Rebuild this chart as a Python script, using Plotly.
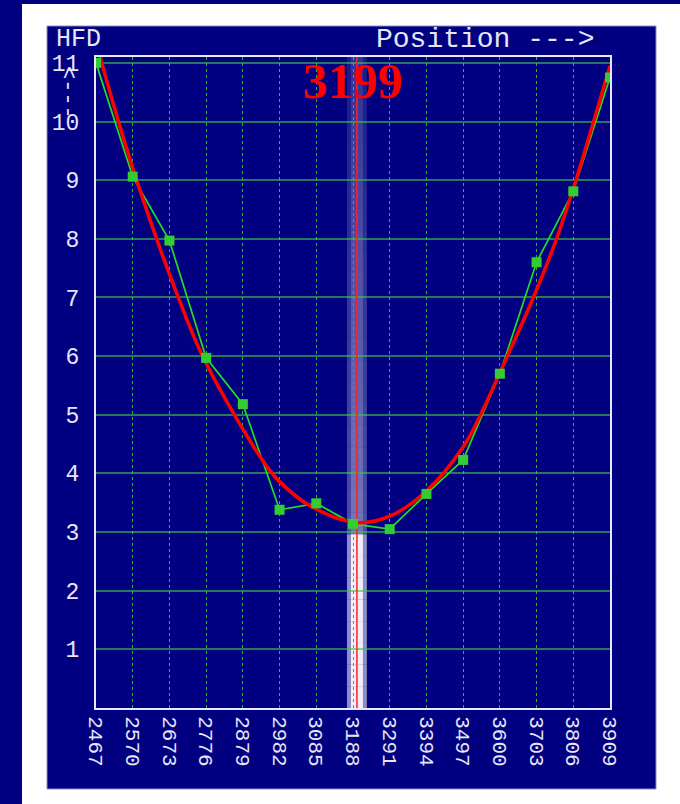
import plotly.graph_objects as go

# ---------------- data ----------------
positions = [2467, 2570, 2673, 2776, 2879, 2982, 3085, 3188, 3291, 3394, 3497, 3600, 3703, 3806, 3909]
hfd = [11.0, 9.06, 7.97, 5.97, 5.18, 3.38, 3.49, 3.14, 3.05, 3.65, 4.23, 5.70, 7.60, 8.81, 10.75]
tick_labels = [str(p) for p in positions]

fit_pos = [2467, 2530, 2581, 2637, 2698, 2763, 2860, 2946, 2982, 3067, 3199,
           3291, 3394, 3497, 3546, 3621, 3694, 3759, 3811, 3858, 3909]
fit_hfd = [11.35, 10.0, 9.0, 8.0, 7.0, 6.04, 4.95, 4.12, 3.86, 3.45, 3.16,
           3.27, 3.70, 4.45, 5.0, 6.0, 7.0, 8.0, 8.95, 9.9, 10.95]

best_focus = 3199
band_half = 28
y_ticks = list(range(1, 12))

# ---------------- geometry (pixels) ----------------
W, H = 680, 804
PL, PR, PT, PB = 96, 610, 57, 708
YMAX = 11.1
NAVY = "#000080"

def px(xp):
    return (xp - PL) / (PR - PL)

def py(yp):
    return (PB - yp) / (PB - PT)

fig = go.Figure()

# green data line (below fit)
fig.add_trace(go.Scatter(x=positions, y=hfd, mode="lines",
                         line=dict(color="#22dd22", width=1.7),
                         hoverinfo="skip", showlegend=False))
# red fit curve
fig.add_trace(go.Scatter(x=fit_pos, y=fit_hfd, mode="lines",
                         line=dict(color="#ff0000", width=3.5, shape="spline", smoothing=1.0),
                         hoverinfo="skip", showlegend=False))
# green markers
fig.add_trace(go.Scatter(x=positions, y=hfd, mode="markers",
                         marker=dict(symbol="square", size=10, color="#33cc33",
                                     line=dict(width=0)),
                         hoverinfo="skip", showlegend=False))

shapes = []
# frame decorations
shapes.append(dict(type="rect", xref="paper", yref="paper", layer="below",
                   x0=px(0), x1=px(22), y0=py(H), y1=py(0),
                   fillcolor=NAVY, line=dict(width=0)))
shapes.append(dict(type="rect", xref="paper", yref="paper", layer="below",
                   x0=px(0), x1=px(W), y0=py(4), y1=py(0),
                   fillcolor=NAVY, line=dict(width=0)))
shapes.append(dict(type="rect", xref="paper", yref="paper", layer="below",
                   x0=px(47), x1=px(656), y0=py(789), y1=py(26),
                   fillcolor=NAVY, line=dict(color="#8c8cc8", width=1)))

# focus band: vertical gradient of white
nseg = 30
for i in range(nseg):
    y0 = YMAX * i / nseg
    y1 = YMAX * (i + 1) / nseg
    ym = (y0 + y1) / 2
    if ym < 3.1:
        a_out, a_in = 0.55, 0.85
    else:
        f = (ym - 3.1) / (YMAX - 3.1)
        a_out = 0.30 - 0.20 * f
        a_in = 0.22 - 0.12 * f
    shapes.append(dict(type="rect", xref="x", yref="y", layer="below",
                       x0=best_focus - band_half, x1=best_focus + band_half,
                       y0=y0, y1=y1, fillcolor="white", opacity=a_out,
                       line=dict(width=0)))
    shapes.append(dict(type="rect", xref="x", yref="y", layer="below",
                       x0=best_focus - band_half * 0.6, x1=best_focus + band_half * 0.6,
                       y0=y0, y1=y1, fillcolor="white", opacity=a_in,
                       line=dict(width=0)))

# red best-focus line
shapes.append(dict(type="line", xref="x", yref="y", layer="between",
                   x0=best_focus, x1=best_focus, y0=0, y1=YMAX,
                   line=dict(color="#ff2020", width=1.5)))

fig.update_layout(shapes=shapes)

mono = "Liberation Mono, Courier New, monospace"
txt_col = "#e6e6f6"

annotations = [
    dict(text="HFD", xref="paper", yref="paper", x=px(54), y=py(40),
         xanchor="left", yanchor="middle", showarrow=False,
         font=dict(family=mono, size=25, color=txt_col)),
    dict(text="Position --->", xref="paper", yref="paper", x=px(374), y=py(40),
         xanchor="left", yanchor="middle", showarrow=False,
         font=dict(family=mono, size=28, color=txt_col)),
    dict(text="&lt;---", xref="paper", yref="paper", x=px(67), y=py(92),
         xanchor="center", yanchor="middle", showarrow=False, textangle=90,
         font=dict(family=mono, size=22, color=txt_col)),
    dict(text=str(best_focus), xref="x", yref="paper", x=best_focus, y=py(81),
         xanchor="center", yanchor="middle", showarrow=False, xshift=-4,
         font=dict(family="Liberation Serif, Times New Roman, serif", size=50,
                   color="#ff0000", weight="bold")),
]
fig.update_layout(annotations=annotations)

fig.update_xaxes(range=[positions[0], positions[-1]],
                 tickvals=positions, ticktext=tick_labels, tickangle=90,
                 tickfont=dict(family=mono, size=21, color=txt_col),
                 showgrid=True, gridcolor="#22c022", griddash="dot", gridwidth=1,
                 showline=True, linecolor="#e8e8f8", linewidth=2, mirror=True,
                 zeroline=False, ticks="", ticklabelstandoff=2, fixedrange=True)
fig.update_yaxes(range=[0, YMAX], tickvals=y_ticks, ticktext=[str(v) for v in y_ticks],
                 tickfont=dict(family=mono, size=23, color=txt_col),
                 showgrid=True, gridcolor="rgba(60,200,70,0.6)", gridwidth=2,
                 showline=True, linecolor="#e8e8f8", linewidth=2, mirror=True,
                 zeroline=False, ticks="", ticklabelstandoff=10, fixedrange=True)

fig.update_layout(width=W, height=H, autosize=False,
                  margin=dict(l=PL, r=W - PR, t=PT, b=H - PB, pad=0),
                  paper_bgcolor="white", plot_bgcolor=NAVY,
                  showlegend=False)

fig.write_html("out.html", config={"displayModeBar": False})
